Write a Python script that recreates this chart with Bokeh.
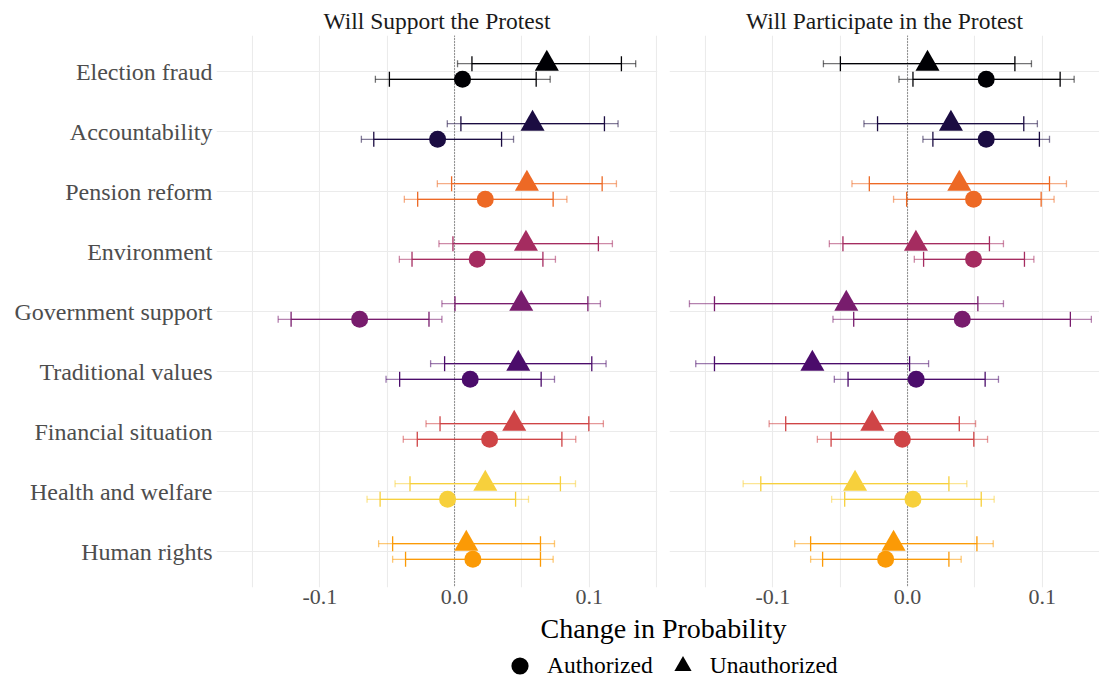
import math
from bokeh.plotting import figure
from bokeh.layouts import column, row
from bokeh.models import (ColumnDataSource, FixedTicker, Span, Legend, LegendItem,
                          Label, Range1d, NumeralTickFormatter)
from bokeh.transform import dodge
from bokeh.embed import file_html
from bokeh.resources import INLINE

# ---------------- data ----------------
categories = ["Election fraud", "Accountability", "Pension reform", "Environment",
              "Government support", "Traditional values", "Financial situation",
              "Health and welfare", "Human rights"]
colors = ["#000004", "#1B0C42", "#ED6925", "#A52C60", "#781C6D", "#4B0C6B",
          "#CF4446", "#F7D03C", "#FB9A06"]
panel_titles = ["Will Support the Protest", "Will Participate in the Protest"]
legend_labels = ["Authorized", "Unauthorized"]
x_ticks = [-0.1, 0.0, 0.1]
x_minor = [-0.15, -0.05, 0.05, 0.15]

# Will Support the Protest
sup_auth_est = [0.0059, -0.0126, 0.0228, 0.0168, -0.0705, 0.0116, 0.0260, -0.0052, 0.0136]
sup_auth_lo95 = [-0.0588, -0.0692, -0.0373, -0.0410, -0.1310, -0.0509, -0.0381, -0.0650, -0.0460]
sup_auth_hi95 = [0.0710, 0.0438, 0.0834, 0.0749, -0.0094, 0.0742, 0.0900, 0.0549, 0.0732]
sup_auth_lo90 = [-0.0484, -0.0600, -0.0274, -0.0316, -0.1214, -0.0408, -0.0277, -0.0553, -0.0364]
sup_auth_hi90 = [0.0606, 0.0349, 0.0732, 0.0656, -0.0190, 0.0643, 0.0797, 0.0453, 0.0638]
sup_unauth_est = [0.0685, 0.0579, 0.0537, 0.0530, 0.0495, 0.0473, 0.0443, 0.0228, 0.0087]
sup_unauth_lo95 = [0.0022, -0.0054, -0.0128, -0.0116, -0.0094, -0.0178, -0.0212, -0.0442, -0.0564]
sup_unauth_hi95 = [0.1345, 0.1214, 0.1202, 0.1172, 0.1083, 0.1125, 0.1105, 0.0898, 0.0742]
sup_unauth_lo90 = [0.0129, 0.0047, -0.0022, -0.0012, 0.0003, -0.0074, -0.0108, -0.0331, -0.0460]
sup_unauth_hi90 = [0.1239, 0.1113, 0.1096, 0.1068, 0.0990, 0.1019, 0.0997, 0.0786, 0.0638]

# Will Participate in the Protest
par_auth_est = [0.0584, 0.0584, 0.0490, 0.0490, 0.0406, 0.0064, -0.0039, 0.0040, -0.0163]
par_auth_lo95 = [-0.0064, 0.0114, -0.0104, 0.0050, -0.0554, -0.0544, -0.0670, -0.0564, -0.0720]
par_auth_hi95 = [0.1237, 0.1054, 0.1088, 0.0938, 0.1365, 0.0675, 0.0594, 0.0643, 0.0398]
par_auth_lo90 = [0.0040, 0.0188, -0.0007, 0.0119, -0.0400, -0.0442, -0.0568, -0.0467, -0.0631]
par_auth_hi90 = [0.1133, 0.0979, 0.0992, 0.0868, 0.1209, 0.0576, 0.0492, 0.0547, 0.0307]
par_unauth_est = [0.0148, 0.0322, 0.0384, 0.0062, -0.0455, -0.0707, -0.0262, -0.0390, -0.0104]
par_unauth_lo95 = [-0.0625, -0.0324, -0.0413, -0.0581, -0.1620, -0.1573, -0.1028, -0.1221, -0.0838]
par_unauth_hi95 = [0.0920, 0.0964, 0.1180, 0.0712, 0.0712, 0.0156, 0.0505, 0.0440, 0.0636]
par_unauth_lo90 = [-0.0499, -0.0223, -0.0284, -0.0480, -0.1434, -0.1434, -0.0905, -0.1090, -0.0720]
par_unauth_hi90 = [0.0797, 0.0863, 0.1054, 0.0608, 0.0522, 0.0015, 0.0384, 0.0307, 0.0515]

# ---------------- layout constants ----------------
FONT = "Liberation Serif"
X_START, X_END = -0.1768, 0.1507
LEFT_FRAME_W = 441
FRAME_H = 552
LEFT_BORDER = 216
GAP_L, GAP_R = 5, 7
TOTAL_W = 1099
RIGHT_FRAME_W = TOTAL_W - (LEFT_BORDER + LEFT_FRAME_W + GAP_L) - GAP_R
PX_PER_UNIT = LEFT_FRAME_W / (X_END - X_START)
RIGHT_END = X_START + RIGHT_FRAME_W / PX_PER_UNIT
TOP_BORDER = 35
BOTTOM_BORDER = 26
BOTTOM_H = 64
OFFSET = 0.13

n = len(categories)
ypos = [n - i for i in range(n)]
label_map = {n - i: c for i, c in enumerate(categories)}


def make_source(est, lo95, hi95, lo90, hi90):
    return ColumnDataSource(dict(cat=categories, y=ypos, color=colors, est=est,
                                 lo95=lo95, hi95=hi95, lo90=lo90, hi90=hi90))


def draw_series(p, src, off, marker, size):
    yd = dodge("y", off, range=p.y_range)
    p.segment(x0="lo95", x1="hi95", y0=yd, y1=yd, source=src, line_color="color",
              line_alpha=0.55, line_width=1.3)
    for f in ("lo95", "hi95"):
        p.scatter(x=f, y=yd, source=src, marker="dash", angle=math.pi / 2, size=7,
                  line_color="color", line_alpha=0.55, line_width=1.3)
    p.segment(x0="lo90", x1="hi90", y0=yd, y1=yd, source=src, line_color="color",
              line_alpha=1.0, line_width=1.3)
    for f in ("lo90", "hi90"):
        p.scatter(x=f, y=yd, source=src, marker="dash", angle=math.pi / 2, size=15,
                  line_color="color", line_alpha=1.0, line_width=1.3)
    p.scatter(x="est", y=yd, source=src, marker=marker, size=size,
              fill_color="color", line_color=None)


def make_panel(title, x_end, frame_w, border_l, border_r, show_y, auth, unauth):
    p = figure(frame_width=frame_w, frame_height=FRAME_H,
               x_range=Range1d(X_START, x_end), y_range=Range1d(0.4, n + 0.6),
               output_backend="svg", toolbar_location=None,
               min_border_left=border_l, min_border_right=border_r,
               min_border_top=TOP_BORDER, min_border_bottom=BOTTOM_BORDER,
               outline_line_color=None, background_fill_color="white")
    p.title.text = title
    p.title.align = "center"
    p.title.text_font = FONT
    p.title.text_font_size = "23.5px"
    p.title.text_font_style = "normal"
    p.title.text_color = "#1a1a1a"
    p.title.standoff = 3

    xt = FixedTicker(ticks=x_ticks, minor_ticks=x_minor)
    p.xaxis.ticker = xt
    p.xaxis.formatter = NumeralTickFormatter(format="0.0")
    p.xaxis.axis_line_color = None
    p.xaxis.major_tick_line_color = None
    p.xaxis.minor_tick_line_color = None
    p.xaxis.major_tick_out = 0
    p.xaxis.major_tick_in = 0
    p.xaxis.major_label_standoff = -2
    p.xaxis.major_label_text_font = FONT
    p.xaxis.major_label_text_font_size = "22px"
    p.xaxis.major_label_text_color = "#4d4d4d"

    yt = FixedTicker(ticks=ypos)
    p.yaxis.ticker = yt
    p.yaxis.major_label_overrides = label_map
    p.yaxis.axis_line_color = None
    p.yaxis.major_tick_line_color = None
    p.yaxis.minor_tick_line_color = None
    p.yaxis.major_tick_out = 0
    p.yaxis.major_tick_in = 0
    p.yaxis.major_label_standoff = 4
    p.yaxis.major_label_text_font = FONT
    p.yaxis.major_label_text_font_size = "24px"
    p.yaxis.major_label_text_color = "#4d4d4d"
    p.yaxis.visible = show_y

    p.xgrid.ticker = xt
    p.ygrid.ticker = yt
    p.xgrid.grid_line_color = "#ebebeb"
    p.xgrid.minor_grid_line_color = "#ebebeb"
    p.ygrid.grid_line_color = "#ebebeb"
    p.xgrid.grid_line_width = 1.1
    p.xgrid.minor_grid_line_width = 1.1
    p.ygrid.grid_line_width = 1.1

    zero = Span(location=0, dimension="height", line_color="#333333",
                line_dash="1 2", line_width=1, level="underlay")
    p.add_layout(zero)

    draw_series(p, auth, -OFFSET, "circle", 17)
    draw_series(p, unauth, OFFSET, "triangle", 24)
    return p


p1 = make_panel(panel_titles[0], X_END, LEFT_FRAME_W, LEFT_BORDER, GAP_L, True,
                make_source(sup_auth_est, sup_auth_lo95, sup_auth_hi95, sup_auth_lo90, sup_auth_hi90),
                make_source(sup_unauth_est, sup_unauth_lo95, sup_unauth_hi95, sup_unauth_lo90, sup_unauth_hi90))
p2 = make_panel(panel_titles[1], RIGHT_END, RIGHT_FRAME_W, GAP_R, 0, False,
                make_source(par_auth_est, par_auth_lo95, par_auth_hi95, par_auth_lo90, par_auth_hi90),
                make_source(par_unauth_est, par_unauth_lo95, par_unauth_hi95, par_unauth_lo90, par_unauth_hi90))

# bottom strip: axis title + legend
p3 = figure(width=TOTAL_W, height=BOTTOM_H, x_range=Range1d(0, TOTAL_W),
            y_range=Range1d(0, BOTTOM_H), output_backend="svg", toolbar_location=None,
            x_axis_location=None, y_axis_location=None, min_border=0,
            outline_line_color=None)
p3.grid.visible = False
full_center = LEFT_BORDER + (LEFT_FRAME_W + GAP_L + GAP_R + LEFT_FRAME_W) / 2
p3.add_layout(Label(x=full_center, y=BOTTOM_H - 15, x_units="screen", y_units="screen",
                    text="Change in Probability", text_align="center",
                    text_baseline="middle", text_font=FONT, text_font_size="28px",
                    text_color="#000000"))
# legend key renderers (kept outside the visible range; they only feed the legend)
key_src = ColumnDataSource(dict(x=[-1000.0], y=[-1000.0]))
r_a = p3.scatter(x="x", y="y", source=key_src, marker="circle", fill_color="black",
                 line_color=None)
r_u = p3.scatter(x="x", y="y", source=key_src, marker="triangle", fill_color="black",
                 line_color=None)
legend = Legend(items=[LegendItem(label=legend_labels[0], renderers=[r_a]),
                       LegendItem(label=legend_labels[1], renderers=[r_u])],
                orientation="horizontal", location=(498, -10),
                glyph_width=43, glyph_height=43, label_standoff=6, spacing=8,
                padding=0, margin=0, border_line_color=None,
                background_fill_alpha=0, label_text_font=FONT,
                label_text_font_size="23.5px", label_text_color="#000000",
                label_text_baseline="middle")
p3.add_layout(legend)

layout = column(row(p1, p2), p3)

with open("out.html", "w") as f:
    f.write(file_html(layout, INLINE))
